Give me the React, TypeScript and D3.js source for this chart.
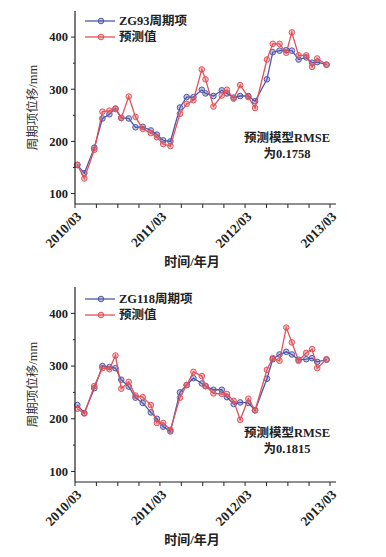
import React from "react";
import * as d3 from "d3";

// observation dates (shared by both stations)
const dates = [
  "2010-03-11", "2010-04-10", "2010-05-23", "2010-06-27", "2010-07-27", "2010-08-22",
  "2010-09-16", "2010-10-18", "2010-11-16", "2010-12-17", "2011-01-21", "2011-02-16",
  "2011-03-15", "2011-04-15", "2011-05-26", "2011-06-24", "2011-07-23", "2011-08-28",
  "2011-09-13", "2011-10-17", "2011-11-22", "2011-12-14", "2012-01-12", "2012-02-09",
  "2012-03-15", "2012-04-13", "2012-06-03", "2012-06-28", "2012-07-27", "2012-08-25",
  "2012-09-18", "2012-10-17", "2012-11-19", "2012-12-14", "2013-01-05", "2013-02-14",
];

const zg93 = [
  155, 139, 188, 244, 252, 263, 245, 244, 227, 228, 221, 213,
  202, 200, 265, 285, 285, 299, 292, 287, 298, 292, 284, 287,
  287, 277, 319, 371, 374, 375, 374, 357, 361, 351, 352, 347,
];
const pred93 = [
  155, 129, 184, 257, 259, 262, 245, 286, 247, 224, 216, 208,
  195, 191, 253, 272, 279, 338, 319, 267, 288, 299, 282, 308,
  285, 264, 357, 387, 387, 370, 409, 365, 365, 343, 359, 347,
];

const zg118 = [
  226, 211, 258, 300, 298, 296, 274, 261, 240, 230, 212, 200,
  185, 176, 250, 264, 277, 267, 262, 255, 255, 241, 228, 231,
  230, 216, 276, 313, 322, 327, 322, 312, 313, 315, 308, 312,
];
const pred118 = [
  219, 210, 262, 296, 294, 320, 257, 270, 244, 241, 226, 192,
  192, 179, 240, 264, 289, 281, 262, 248, 247, 247, 234, 198,
  238, 216, 293, 315, 310, 373, 345, 310, 325, 332, 296, 313,
];

const yTicks = [100, 200, 300, 400];
const yMinorTicks = [150, 250, 350];

const BLUE = "#4f58a8";
const RED = "#e2525a";
const FONT = "'Liberation Serif', 'Noto Sans CJK SC', serif";

const parse = d3.timeParse("%Y-%m-%d");
const xDates = dates.map((d) => parse(d) as Date);

const xStart = new Date(2010, 2, 1);
const xEnd = new Date(2013, 2, 1);
const x = d3.scaleTime().domain([xStart, xEnd]).range([75, 330]);
// a tick every 3 months starting from March, label every 12
const xTicks = d3.timeMonth.range(xStart, new Date(2013, 2, 2), 3);
const fmt = d3.timeFormat("%Y/%m");

type PanelProps = {
  top: number;
  bottom: number;
  name: string;
  measured: number[];
  predicted: number[];
  rmse: string;
  rmseY: number;
  legendY: number;
};

const Panel = ({ top, bottom, name, measured, predicted, rmse, rmseY, legendY }: PanelProps) => {
  const y = d3.scaleLinear().domain([80, 450]).range([bottom, top]);
  const line = d3
    .line<number>()
    .x((_, i) => x(xDates[i]))
    .y((d) => y(d));

  const series = [
    { label: name, values: measured, color: BLUE },
    { label: "预测值", values: predicted, color: RED },
  ];

  return (
    <g fontFamily={FONT}>
      {/* lines + markers */}
      {series.map((s) => (
        <g key={s.label}>
          <path d={line(s.values) || ""} fill="none" stroke={s.color} strokeWidth={1.3} />
          {s.values.map((v, i) => (
            <circle
              key={i}
              cx={x(xDates[i])}
              cy={y(v)}
              r={2.8}
              fill={s.color}
              fillOpacity={0.35}
              stroke={s.color}
              strokeWidth={1}
            />
          ))}
        </g>
      ))}

      {/* y axis */}
      <line x1={75} x2={75} y1={top} y2={bottom} stroke="#222" strokeWidth={1.2} />
      {yTicks.map((t) => (
        <g key={t}>
          <line x1={71} x2={75} y1={y(t)} y2={y(t)} stroke="#222" />
          <text x={68} y={y(t)} dy="0.35em" textAnchor="end" fontSize={12.5} fontWeight="bold" fill="#222">
            {t}
          </text>
        </g>
      ))}
      {yMinorTicks.map((t) => (
        <line key={t} x1={73} x2={75} y1={y(t)} y2={y(t)} stroke="#222" />
      ))}
      <text
        transform={`translate(37,${(top + bottom) / 2}) rotate(-90)`}
        textAnchor="middle"
        fontSize={12.5}
        fill="#333"
      >
        周期项位移/mm
      </text>

      {/* x axis */}
      <line x1={75} x2={336} y1={bottom} y2={bottom} stroke="#222" strokeWidth={1.2} />
      {xTicks.map((t) => (
        <line key={+t} x1={x(t)} x2={x(t)} y1={bottom} y2={bottom + 4} stroke="#222" />
      ))}
      {xTicks
        .filter((t) => t.getMonth() === 2)
        .map((t) => (
          <text
            key={+t}
            transform={`translate(${x(t) + 4},${bottom + 10}) rotate(-45)`}
            textAnchor="end"
            dy="0.35em"
            fontSize={13.5}
            fontWeight="bold"
            fill="#222"
          >
            {fmt(t)}
          </text>
        ))}
      <text x={192} y={bottom + 62} textAnchor="middle" fontSize={13} fontWeight="bold" fill="#222">
        时间/年月
      </text>

      {/* legend */}
      {series.map((s, i) => (
        <g key={s.label} transform={`translate(0,${legendY + i * 16})`}>
          <line x1={85} x2={115} stroke={s.color} strokeWidth={1.3} />
          <circle cx={101} r={2.8} fill={s.color} fillOpacity={0.35} stroke={s.color} />
          <text x={119} dy="0.35em" fontSize={12.5} fontWeight="bold" fill="#222">
            {s.label}
          </text>
        </g>
      ))}

      {/* RMSE note */}
      <text x={287} y={rmseY} textAnchor="middle" fontSize={12.5} fontWeight="bold" fill="#222">
        预测模型RMSE
      </text>
      <text x={287} y={rmseY + 16} textAnchor="middle" fontSize={12.5} fontWeight="bold" fill="#222">
        {rmse}
      </text>
    </g>
  );
};

const App = () => (
  <svg
    width={386}
    height={557}
    style={{ position: "absolute", left: 0, top: 0, background: "#fff" }}
  >
    <Panel top={11} bottom={204} name="ZG93周期项" measured={zg93} predicted={pred93} rmse="为0.1758" rmseY={142} legendY={21} />
    <Panel top={287} bottom={482} name="ZG118周期项" measured={zg118} predicted={pred118} rmse="为0.1815" rmseY={437} legendY={299} />
  </svg>
);

export default App;
